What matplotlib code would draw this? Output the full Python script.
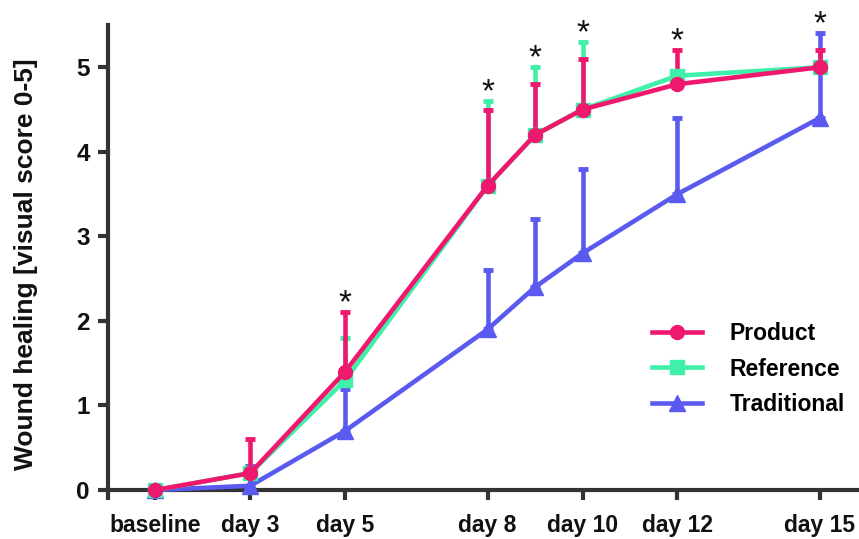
import numpy as np
import matplotlib
matplotlib.use('Agg')
import matplotlib.pyplot as plt
import matplotlib.transforms as mtransforms

plt.rcParams['font.family'] = ['Liberation Sans', 'DejaVu Sans']
plt.rcParams['font.weight'] = 'bold'

# Days of measurement (baseline drawn at position 1)
x_pos = [1, 3, 5, 8, 9, 10, 12, 15]
tick_pos = [0, 1, 3, 5, 8, 10, 12, 15]
tick_labels = ['', 'baseline', 'day 3', 'day 5', 'day 8', 'day 10', 'day 12', 'day 15']

# Means and upper error bar tops
product = [0.0, 0.2, 1.4, 3.6, 4.2, 4.5, 4.8, 5.0]
product_top = [0.0, 0.6, 2.1, 4.5, 4.8, 5.1, 5.2, 5.2]
reference = [0.0, 0.2, 1.3, 3.6, 4.2, 4.5, 4.9, 5.0]
reference_top = [0.0, 0.25, 1.8, 4.6, 5.0, 5.3, 4.95, 5.05]
traditional = [0.0, 0.05, 0.7, 1.9, 2.4, 2.8, 3.5, 4.4]
traditional_top = [0.0, 0.28, 1.2, 2.6, 3.2, 3.8, 4.4, 5.4]

# Points marked significant
star_idx = [2, 3, 4, 5, 6, 7]

series = [
    ('Traditional', traditional, traditional_top, '#5a5af0', '^'),
    ('Reference', reference, reference_top, '#3ef0a8', 's'),
    ('Product', product, product_top, '#f0186e', 'o'),
]

fig = plt.figure(figsize=(8.59, 5.39), dpi=100)
ax = fig.add_axes([0.1257, 0.0909, 0.88, 0.8627])

handles = {}
for name, mean, top, color, marker in series:
    mean = np.array(mean)
    upper = np.array(top) - mean
    err = ax.errorbar(x_pos, mean, yerr=[np.zeros_like(upper), upper],
                      color=color, marker=marker, markersize=10 if marker != '^' else 11,
                      linewidth=3.3, elinewidth=3.3, capsize=3.6, capthick=3.5,
                      clip_on=False, zorder=3)
    for c in err.lines[1]:
        c.set_clip_on(False)
    for c in err.lines[2]:
        c.set_clip_on(False)
    handles[name] = err.lines[0]

# asterisks above the highest bar
tops = np.max([product_top, reference_top, traditional_top], axis=0)
for i in star_idx:
    ax.text(x_pos[i], tops[i] + 0.1, '*', ha='center', va='center',
            fontsize=24, fontweight='normal', color='#111111', clip_on=False)

ax.set_xlim(0, 15.93)
ax.set_ylim(0, 5.5)
ax.set_xticks(tick_pos)
ax.set_xticklabels(tick_labels, fontsize=16.5, fontweight='bold', color='#111111')
ax.set_yticks(range(6))
ax.set_yticklabels([str(v) for v in range(6)], fontsize=17.5, fontweight='bold', color='#111111')
ax.set_ylabel('Wound healing [visual score 0-5]', fontsize=19, fontweight='bold',
              color='#111111')
ax.yaxis.set_label_coords(-0.092, 0.486)

# nudge the last label so it stays inside the figure
last = ax.get_xticklabels()[-1]
last.set_transform(last.get_transform() +
                   mtransforms.ScaledTranslation(-8 / 100, 0, fig.dpi_scale_trans))

for side in ['top', 'right']:
    ax.spines[side].set_visible(False)
for side in ['left', 'bottom']:
    ax.spines[side].set_linewidth(3)
    ax.spines[side].set_color('#333333')
ax.tick_params(axis='both', direction='out', length=7, width=3, color='#333333')
ax.tick_params(axis='x', pad=10)
ax.tick_params(axis='y', pad=6)

leg = ax.legend([handles['Product'], handles['Reference'], handles['Traditional']],
                ['Product', 'Reference', 'Traditional'],
                loc='center left', bbox_to_anchor=(652 / 859, 1 - 369 / 539),
                bbox_transform=fig.transFigure, frameon=False,
                handlelength=2.2, handletextpad=1.2, labelspacing=0.55,
                borderpad=0, borderaxespad=0,
                prop={'weight': 'bold', 'size': 16.5})

fig.savefig('out.png', dpi=100)
